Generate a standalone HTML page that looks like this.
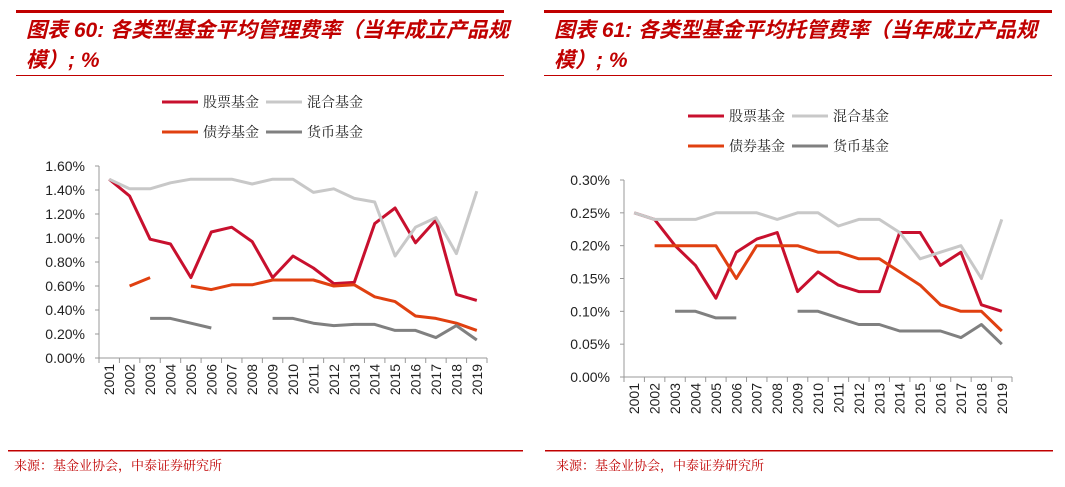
<!DOCTYPE html>
<html><head><meta charset="utf-8">
<style>
html,body{margin:0;padding:0;background:#fff;}
svg{display:block;font-family:"Liberation Sans","Noto Sans CJK SC",sans-serif;}
.t{font-family:"Liberation Sans","Noto Sans CJK SC",sans-serif;font-style:italic;font-weight:bold;fill:#c00000;font-size:21px;}
.lg{font-family:"Noto Serif CJK SC","Noto Sans CJK SC",serif;font-size:14px;fill:#222;}
.src{font-family:"Noto Serif CJK SC","Noto Sans CJK SC",serif;font-size:13px;fill:#c00000;}
.ax{font-size:14px;fill:#222;}
</style></head>
<body>
<svg id="svg" width="1065" height="487" viewBox="0 0 1065 487">
  <g>
    <rect x="16" y="10" width="488" height="3" fill="#c00000"/>
    <text class="t" x="26" y="37">图表 60: 各类型基金平均管理费率（当年成立产品规</text>
    <text class="t" x="26" y="67">模）; %</text>
    <rect x="16" y="75" width="488" height="1" fill="#c00000"/>
  </g>
  <g>
    <rect x="544" y="10" width="508" height="3" fill="#c00000"/>
    <text class="t" x="554" y="37">图表 61: 各类型基金平均托管费率（当年成立产品规</text>
    <text class="t" x="554" y="67">模）; %</text>
    <rect x="544" y="75" width="508" height="1" fill="#c00000"/>
  </g>
  <g>
    <rect x="8" y="450" width="515" height="1.5" fill="#c00000"/>
    <rect x="545" y="450" width="508" height="1.5" fill="#c00000"/>
    <text class="src" x="14" y="470">来源：基金业协会，中泰证券研究所</text>
    <text class="src" x="556" y="470">来源：基金业协会，中泰证券研究所</text>
  </g>
  <g id="left"></g>
  <g id="right"></g>
</svg>
<script>
const years = ["2001","2002","2003","2004","2005","2006","2007","2008","2009","2010","2011","2012","2013","2014","2015","2016","2017","2018","2019"];
const seriesNames = ["股票基金","混合基金","债券基金","货币基金"];
const seriesColors = ["#c8102e","#c8c8c8","#e04010","#808080"];
const mgmtStock = [1.49,1.35,0.99,0.95,0.67,1.05,1.09,0.97,0.67,0.85,0.75,0.62,0.63,1.12,1.25,0.96,1.15,0.53,0.48];
const mgmtMixed = [1.49,1.41,1.41,1.46,1.49,1.49,1.49,1.45,1.49,1.49,1.38,1.41,1.33,1.30,0.85,1.09,1.17,0.87,1.39];
const mgmtBond = [null,0.60,0.67,null,0.60,0.57,0.61,0.61,0.65,0.65,0.65,0.60,0.61,0.51,0.47,0.35,0.33,0.29,0.23];
const mgmtMoney = [null,null,0.33,0.33,0.29,0.25,null,null,0.33,0.33,0.29,0.27,0.28,0.28,0.23,0.23,0.17,0.27,0.15];
const custStock = [0.25,0.24,0.20,0.17,0.12,0.19,0.21,0.22,0.13,0.16,0.14,0.13,0.13,0.22,0.22,0.17,0.19,0.11,0.10];
const custMixed = [0.25,0.24,0.24,0.24,0.25,0.25,0.25,0.24,0.25,0.25,0.23,0.24,0.24,0.22,0.18,0.19,0.20,0.15,0.24];
const custBond = [null,0.20,0.20,0.20,0.20,0.15,0.20,0.20,0.20,0.19,0.19,0.18,0.18,0.16,0.14,0.11,0.10,0.10,0.07];
const custMoney = [null,null,0.10,0.10,0.09,0.09,null,null,0.10,0.10,0.09,0.08,0.08,0.07,0.07,0.07,0.06,0.08,0.05];
const leftTicks = [0,0.2,0.4,0.6,0.8,1.0,1.2,1.4,1.6];
const rightTicks = [0,0.05,0.10,0.15,0.20,0.25,0.30];

const NS="http://www.w3.org/2000/svg";
function mk(parent,tag,attrs){const e=document.createElementNS(NS,tag);for(const k in attrs)e.setAttribute(k,attrs[k]);parent.appendChild(e);return e;}

function draw(g, cfg){
  const {left,right,top,bottom,ticks,max,series,legX,legY,prefix}=cfg;
  const bw=(right-left)/years.length;
  const x=i=>left+bw*(i+0.5);
  const y=v=>bottom-(v/max)*(bottom-top);
  const ya=mk(g,'line',{x1:left,y1:top,x2:left,y2:bottom,stroke:'#999','stroke-width':1});
  
  
  ticks.forEach(t=>{
    mk(g,'line',{x1:left-4,y1:y(t),x2:left,y2:y(t),stroke:'#999'});
    const tx=mk(g,'text',{x:left-14,y:y(t)+5,'text-anchor':'end',class:'ax'});
    tx.textContent=t.toFixed(cfg.dec)+'%';
    
    
  });
  const xa=mk(g,'line',{x1:left,y1:bottom,x2:right,y2:bottom,stroke:'#999','stroke-width':1});
  
  
  years.forEach((yr,i)=>{
    mk(g,'line',{x1:left+bw*i,y1:bottom,x2:left+bw*i,y2:bottom+5,stroke:'#999'});
    const tx=mk(g,'text',{x:0,y:0,'text-anchor':'end',class:'ax',transform:`translate(${x(i)+5},${bottom+6}) rotate(-90)`});
    tx.textContent=yr;
    
    
  });
  mk(g,'line',{x1:right,y1:bottom,x2:right,y2:bottom+5,stroke:'#999'});
  series.forEach((s,si)=>{
    let d='',pen=false;
    s.forEach((v,i)=>{
      if(v==null){pen=false;return;}
      d+=(pen?'L':'M')+x(i).toFixed(1)+' '+y(v).toFixed(1)+' ';pen=true;
    });
    const p=mk(g,'path',{d:d,fill:'none',stroke:seriesColors[si],'stroke-width':3,'stroke-linejoin':'round'});
    
    
  });
  seriesNames.forEach((n,i)=>{
    const lx=legX+(i%2)*104, ly=legY+Math.floor(i/2)*30;
    mk(g,'line',{x1:lx,y1:ly,x2:lx+36,y2:ly,stroke:seriesColors[i],'stroke-width':3});
    const t=mk(g,'text',{x:lx+41,y:ly+5,class:'lg'});
    t.textContent=n;
    
    
  });
}
draw(document.getElementById('left'),{left:99,right:487,top:166,bottom:358,ticks:leftTicks,max:1.6,dec:2,
  series:[mgmtStock,mgmtMixed,mgmtBond,mgmtMoney],legX:162,legY:102,prefix:'left'});
draw(document.getElementById('right'),{left:624,right:1012,top:180,bottom:377,ticks:rightTicks,max:0.30,dec:2,
  series:[custStock,custMixed,custBond,custMoney],legX:688,legY:116,prefix:'right'});
</script>
</body></html>
